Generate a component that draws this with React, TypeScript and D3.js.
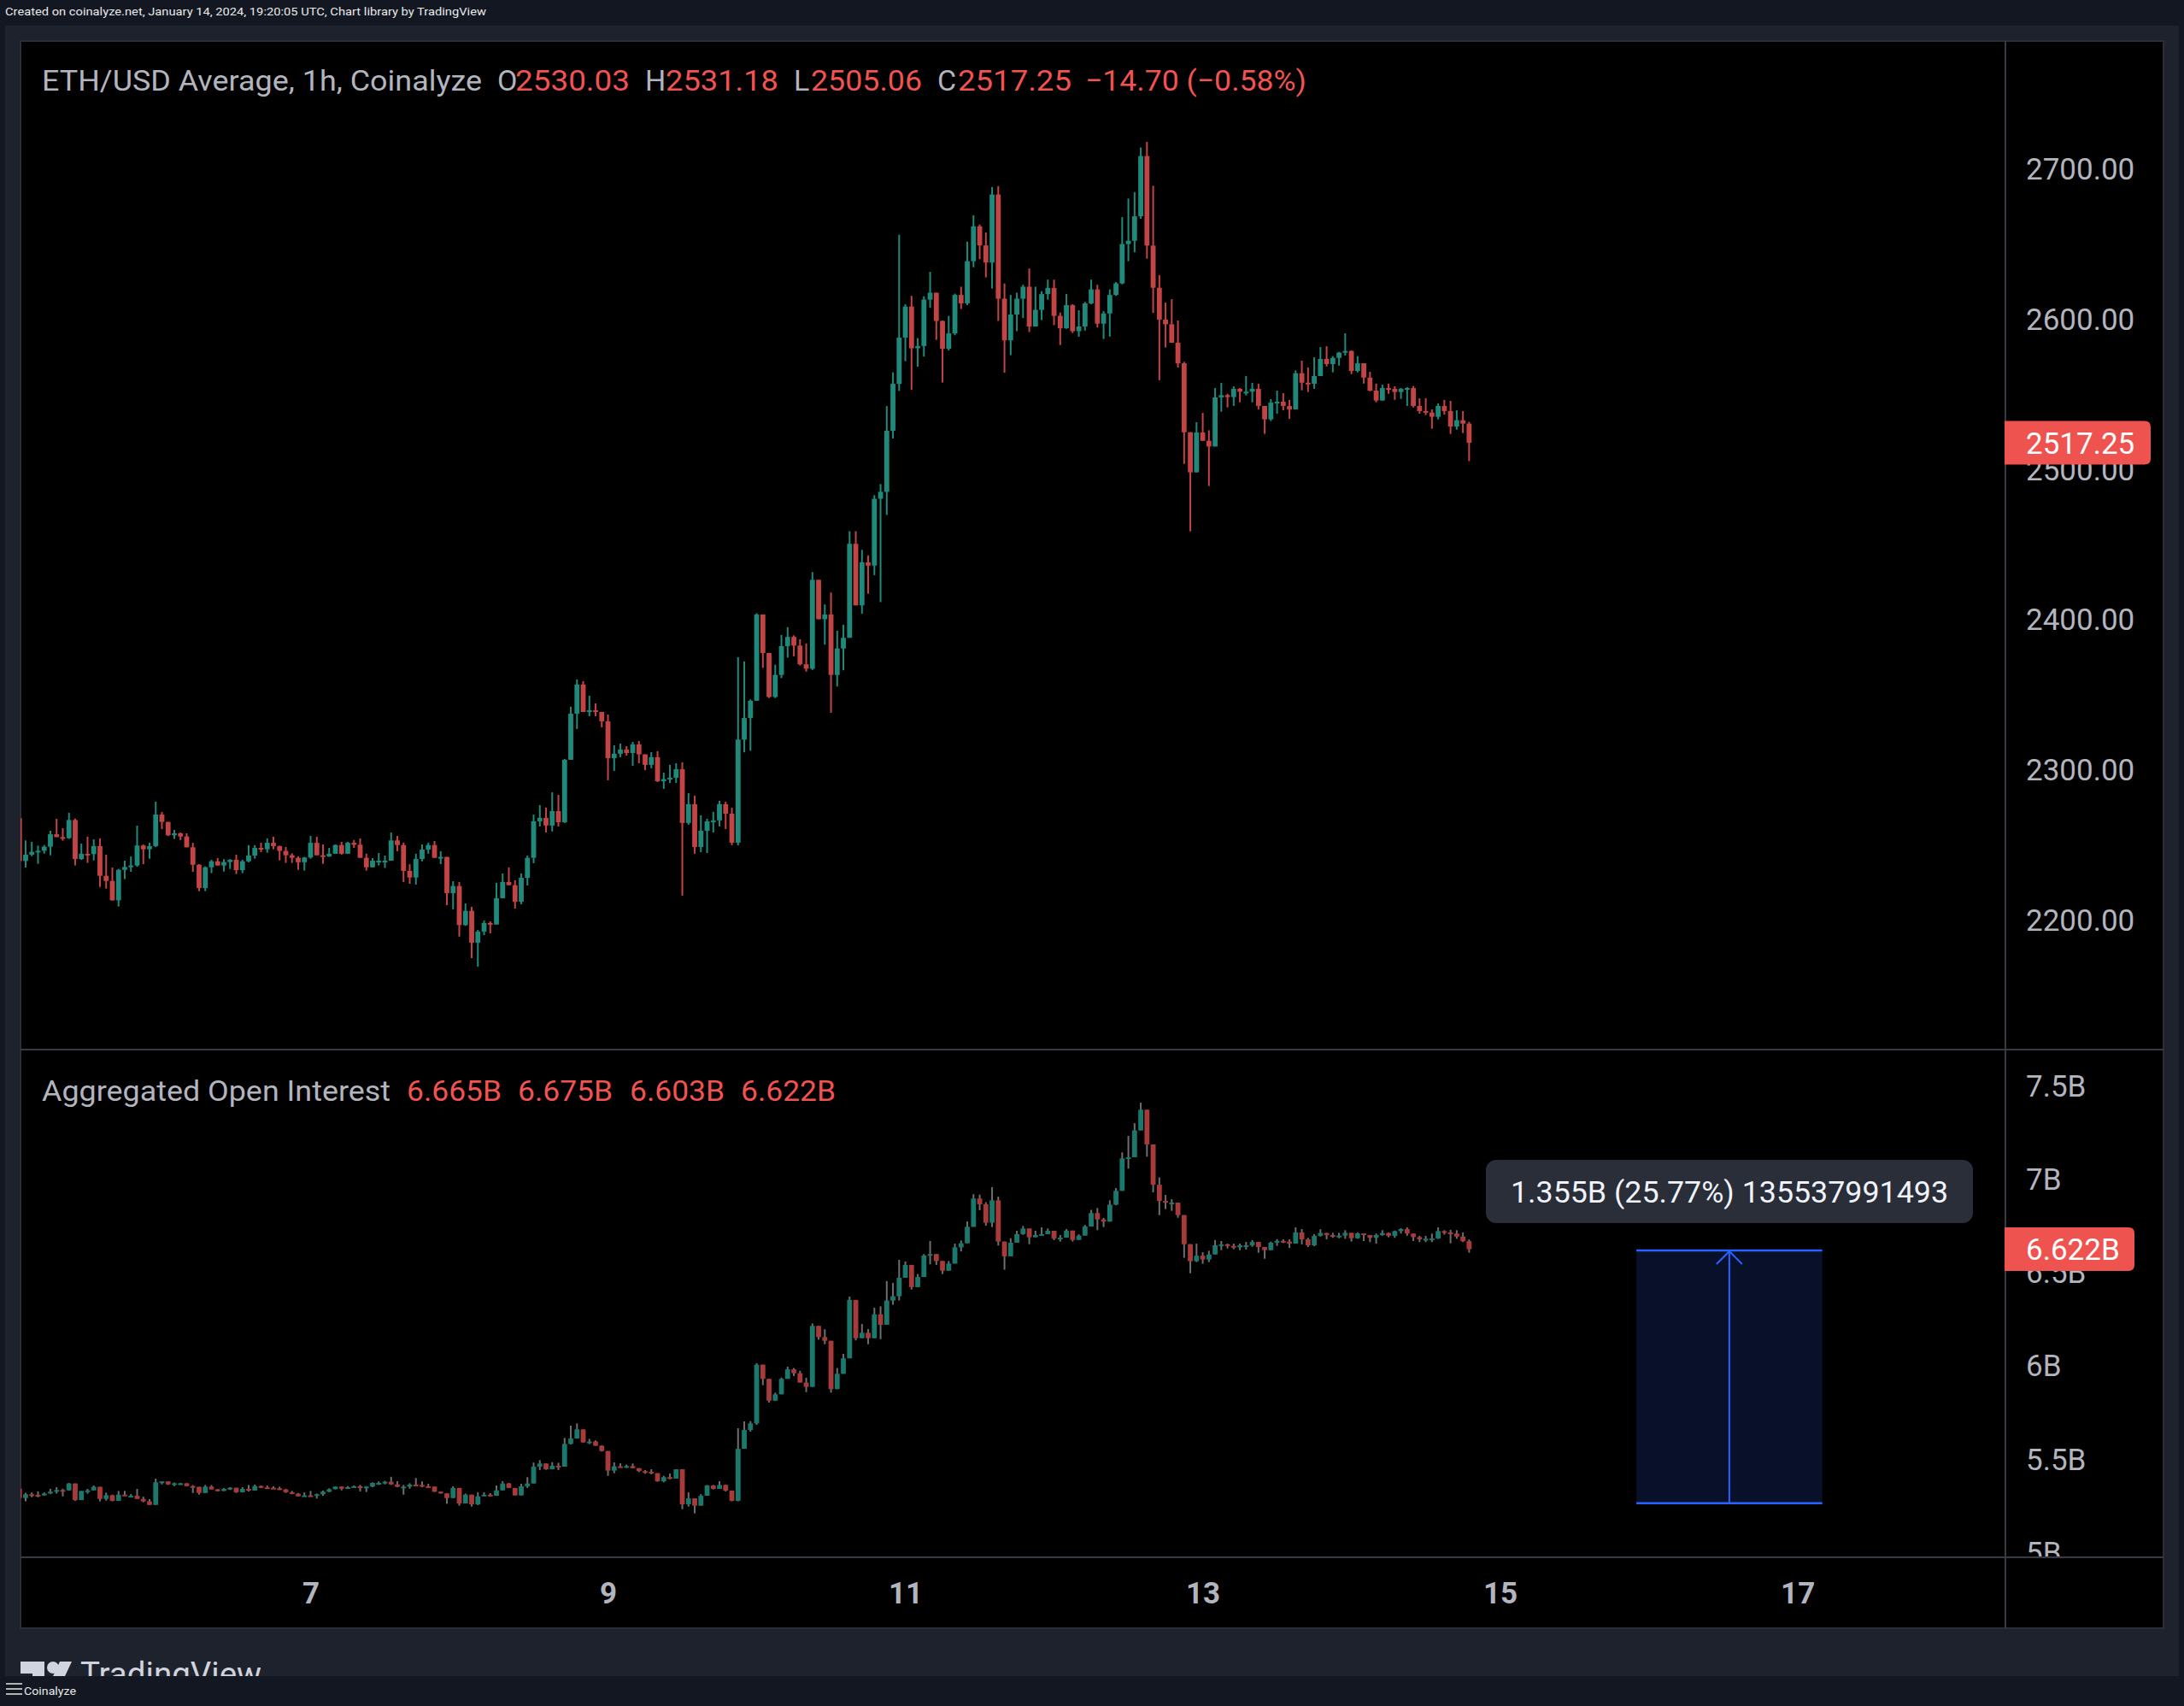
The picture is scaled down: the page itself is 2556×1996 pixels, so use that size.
import { useEffect, useRef } from "react";
import * as d3 from "d3";

const W = 2556;
const H = 1996;
const HOUR = 3600 * 1000;

// hourly candles, the first one opens on 2024-01-05 01:00 UTC
const firstCandleTime = Date.UTC(2024, 0, 5, 1);

// ETH/USD average, 1h
const priceFirstOpen = 2267.3;
const priceClose = [
  2238.8, 2243.0, 2244.9, 2245.6, 2248.3, 2256.6, 2254.7, 2254.0, 2266.1, 2240.1,
  2243.6, 2243.4, 2248.7, 2228.9, 2225.5, 2212.6, 2232.9, 2234.8, 2235.8, 2249.1,
  2246.6, 2248.7, 2269.7, 2264.8, 2255.9, 2257.2, 2255.1, 2247.9, 2236.3, 2220.8,
  2234.6, 2238.6, 2235.8, 2238.1, 2239.6, 2232.7, 2238.6, 2242.4, 2247.5, 2246.6,
  2250.9, 2248.7, 2245.5, 2242.6, 2240.9, 2237.9, 2241.1, 2250.9, 2242.6, 2241.8,
  2243.6, 2249.4, 2243.6, 2250.9, 2249.6, 2240.9, 2234.6, 2239.0, 2239.0, 2239.0,
  2252.5, 2249.4, 2232.2, 2227.8, 2240.1, 2246.4, 2249.4, 2240.9, 2241.5, 2217.4,
  2222.1, 2196.1, 2205.6, 2184.4, 2191.8, 2197.5, 2196.5, 2214.0, 2224.8, 2222.7,
  2211.7, 2227.6, 2240.9, 2265.2, 2267.5, 2262.4, 2272.0, 2264.6, 2306.2, 2336.9,
  2356.3, 2338.0, 2339.2, 2338.0, 2331.8, 2307.3, 2310.2, 2313.0, 2310.7, 2316.4,
  2309.8, 2302.8, 2307.9, 2291.9, 2293.3, 2294.2, 2299.9, 2264.1, 2276.6, 2248.1,
  2258.9, 2265.2, 2265.8, 2276.6, 2270.3, 2251.0, 2319.6, 2334.0, 2345.5, 2402.9,
  2377.3, 2348.0, 2362.7, 2381.9, 2388.0, 2382.2, 2369.8, 2366.8, 2426.0, 2399.8,
  2402.9, 2362.7, 2380.3, 2387.4, 2450.0, 2409.0, 2437.7, 2435.5, 2480.0, 2484.6,
  2525.3, 2556.5, 2587.3, 2608.0, 2580.2, 2581.7, 2612.6, 2617.2, 2598.4, 2579.9,
  2590.1, 2615.7, 2610.1, 2638.2, 2661.4, 2648.7, 2637.3, 2682.6, 2613.2, 2585.5,
  2602.7, 2613.2, 2621.2, 2594.7, 2605.8, 2616.3, 2620.3, 2601.8, 2593.5, 2608.9,
  2591.6, 2594.7, 2610.1, 2619.4, 2596.6, 2603.4, 2615.7, 2623.4, 2649.6, 2651.8,
  2668.1, 2708.2, 2648.6, 2620.5, 2599.3, 2596.2, 2583.9, 2570.2, 2524.3, 2497.6,
  2524.1, 2518.6, 2514.8, 2547.5, 2549.0, 2547.7, 2553.2, 2551.3, 2551.3, 2553.2,
  2541.8, 2532.9, 2544.0, 2544.6, 2541.8, 2539.5, 2563.6, 2557.3, 2556.6, 2561.7,
  2573.1, 2569.7, 2573.8, 2577.3, 2578.4, 2565.1, 2570.2, 2560.7, 2552.0, 2545.4,
  2553.7, 2553.2, 2551.1, 2553.2, 2553.7, 2541.8, 2538.4, 2537.4, 2534.6, 2541.8,
  2538.4, 2528.1, 2532.3, 2530.03, 2517.25,
];
const priceHigh = [
  2269.5, 2252.5, 2251.5, 2249.0, 2249.4, 2258.9, 2266.9, 2260.6, 2270.9, 2267.0,
  2250.4, 2254.9, 2253.2, 2253.8, 2243.0, 2234.4, 2233.5, 2239.0, 2241.8, 2262.3,
  2249.8, 2251.0, 2278.3, 2271.4, 2264.6, 2259.5, 2257.8, 2257.2, 2250.9, 2236.7,
  2235.2, 2239.6, 2240.7, 2240.0, 2240.0, 2243.0, 2239.6, 2249.3, 2249.3, 2250.9,
  2253.8, 2254.9, 2249.0, 2248.1, 2243.9, 2241.8, 2241.5, 2255.5, 2254.9, 2249.8,
  2247.5, 2249.8, 2251.5, 2251.5, 2252.7, 2253.8, 2243.6, 2240.7, 2244.1, 2242.4,
  2257.8, 2255.5, 2251.0, 2236.7, 2243.6, 2249.8, 2251.0, 2252.1, 2245.3, 2240.1,
  2225.3, 2224.8, 2210.5, 2208.3, 2192.9, 2199.2, 2198.6, 2224.2, 2230.5, 2234.5,
  2225.9, 2230.5, 2242.4, 2269.7, 2276.0, 2274.3, 2284.5, 2282.8, 2306.7, 2341.5,
  2359.7, 2358.5, 2348.9, 2343.7, 2338.0, 2336.3, 2315.8, 2317.0, 2315.3, 2318.1,
  2318.7, 2309.6, 2311.3, 2311.9, 2297.6, 2302.8, 2303.9, 2304.5, 2284.0, 2282.3,
  2269.2, 2266.9, 2271.5, 2278.9, 2278.3, 2274.3, 2374.5, 2371.7, 2346.4, 2403.8,
  2402.2, 2377.3, 2369.5, 2389.3, 2394.5, 2389.0, 2386.5, 2383.7, 2431.2, 2424.8,
  2409.6, 2417.6, 2392.1, 2396.1, 2458.4, 2458.4, 2446.0, 2442.3, 2482.4, 2489.8,
  2541.7, 2564.2, 2655.8, 2609.5, 2615.1, 2587.0, 2614.8, 2631.1, 2615.7, 2598.7,
  2601.8, 2616.6, 2621.2, 2651.2, 2668.8, 2662.6, 2657.3, 2687.6, 2688.2, 2623.4,
  2615.7, 2617.2, 2622.5, 2633.3, 2621.2, 2618.2, 2625.9, 2625.9, 2604.0, 2616.3,
  2609.5, 2605.5, 2611.1, 2625.9, 2622.5, 2604.9, 2619.4, 2624.3, 2667.5, 2679.9,
  2684.2, 2713.9, 2717.6, 2688.4, 2628.9, 2610.6, 2612.9, 2598.7, 2571.2, 2523.4,
  2531.0, 2537.2, 2525.6, 2553.7, 2557.2, 2549.9, 2554.9, 2553.7, 2561.7, 2557.2,
  2556.6, 2541.8, 2546.3, 2552.0, 2550.3, 2545.8, 2565.5, 2571.9, 2567.4, 2574.2,
  2581.0, 2581.6, 2575.0, 2577.8, 2590.2, 2578.8, 2575.0, 2570.2, 2564.5, 2556.7,
  2556.0, 2556.6, 2554.9, 2553.7, 2554.3, 2555.1, 2546.9, 2546.9, 2539.5, 2543.5,
  2545.8, 2545.2, 2538.9, 2538.4, 2531.18,
];
const priceLow = [
  2214.5, 2234.4, 2242.0, 2236.9, 2243.7, 2242.6, 2254.7, 2252.3, 2253.5, 2235.8,
  2239.5, 2237.5, 2239.2, 2221.5, 2220.4, 2212.4, 2208.5, 2226.7, 2231.6, 2235.0,
  2236.7, 2240.3, 2248.0, 2260.0, 2255.5, 2253.4, 2252.7, 2247.9, 2231.6, 2218.7,
  2218.7, 2230.7, 2235.8, 2231.8, 2233.5, 2230.1, 2230.7, 2237.9, 2240.3, 2244.7,
  2244.3, 2246.6, 2239.2, 2237.5, 2237.5, 2232.9, 2232.4, 2240.3, 2242.6, 2236.9,
  2241.5, 2243.6, 2243.0, 2243.6, 2247.5, 2240.9, 2232.4, 2234.6, 2235.8, 2234.1,
  2239.0, 2245.3, 2224.8, 2223.6, 2223.1, 2238.6, 2243.6, 2240.9, 2236.7, 2209.4,
  2206.6, 2188.4, 2195.6, 2174.1, 2168.4, 2189.5, 2190.6, 2196.5, 2214.5, 2222.7,
  2207.1, 2210.0, 2222.5, 2237.3, 2261.8, 2257.8, 2258.4, 2261.8, 2264.1, 2308.4,
  2326.7, 2338.0, 2335.2, 2335.2, 2327.8, 2292.5, 2298.8, 2307.9, 2309.0, 2302.2,
  2303.9, 2299.3, 2300.5, 2291.4, 2286.8, 2290.8, 2290.8, 2215.7, 2262.9, 2243.6,
  2244.7, 2244.1, 2257.8, 2261.8, 2260.1, 2249.3, 2249.2, 2311.2, 2312.2, 2345.8,
  2367.4, 2347.3, 2347.3, 2360.6, 2374.2, 2375.1, 2368.9, 2364.9, 2366.0, 2399.8,
  2382.8, 2337.5, 2355.0, 2365.8, 2388.4, 2409.0, 2403.5, 2416.7, 2429.1, 2411.2,
  2469.2, 2520.1, 2551.8, 2571.6, 2552.5, 2567.9, 2574.7, 2607.1, 2585.8, 2557.4,
  2578.7, 2588.9, 2606.4, 2608.9, 2634.2, 2639.5, 2627.4, 2620.0, 2598.4, 2563.9,
  2575.6, 2591.6, 2600.3, 2591.0, 2595.0, 2599.0, 2612.6, 2595.6, 2582.4, 2593.2,
  2590.4, 2587.9, 2592.0, 2609.5, 2594.1, 2586.4, 2588.0, 2615.1, 2622.8, 2638.2,
  2644.1, 2666.4, 2639.9, 2603.8, 2558.9, 2580.7, 2583.9, 2567.4, 2503.2, 2458.3,
  2497.6, 2518.6, 2488.5, 2514.8, 2538.0, 2540.8, 2541.8, 2544.2, 2548.8, 2544.2,
  2539.5, 2523.2, 2531.7, 2536.7, 2538.9, 2533.2, 2539.5, 2552.2, 2551.1, 2553.2,
  2561.7, 2568.1, 2564.2, 2568.7, 2575.4, 2563.0, 2564.2, 2556.7, 2551.6, 2544.2,
  2545.4, 2549.9, 2545.9, 2546.5, 2541.8, 2540.8, 2536.7, 2535.7, 2526.6, 2532.9,
  2536.1, 2523.2, 2526.0, 2523.7, 2505.06,
];

// Aggregated open interest, billions
const oiFirstOpen = 5.338;
const oiClose = [
  5.288, 5.308, 5.305, 5.302, 5.312, 5.322, 5.331, 5.329, 5.366, 5.277,
  5.326, 5.329, 5.348, 5.283, 5.303, 5.273, 5.306, 5.300, 5.300, 5.283,
  5.270, 5.251, 5.372, 5.377, 5.361, 5.367, 5.367, 5.352, 5.348, 5.315,
  5.349, 5.334, 5.326, 5.337, 5.343, 5.319, 5.337, 5.328, 5.352, 5.345,
  5.343, 5.340, 5.334, 5.319, 5.311, 5.297, 5.302, 5.300, 5.308, 5.322,
  5.335, 5.349, 5.338, 5.346, 5.351, 5.341, 5.349, 5.369, 5.369, 5.375,
  5.361, 5.348, 5.349, 5.360, 5.358, 5.351, 5.349, 5.322, 5.313, 5.288,
  5.342, 5.259, 5.306, 5.254, 5.297, 5.306, 5.300, 5.329, 5.366, 5.342,
  5.302, 5.351, 5.366, 5.456, 5.473, 5.442, 5.461, 5.456, 5.578, 5.607,
  5.656, 5.586, 5.591, 5.568, 5.540, 5.435, 5.458, 5.456, 5.459, 5.448,
  5.432, 5.429, 5.421, 5.378, 5.400, 5.392, 5.442, 5.254, 5.286, 5.247,
  5.300, 5.355, 5.337, 5.358, 5.328, 5.273, 5.552, 5.653, 5.688, 6.003,
  5.927, 5.810, 5.844, 5.927, 5.978, 5.957, 5.907, 5.884, 6.211, 6.151,
  6.131, 5.872, 5.954, 6.037, 6.350, 6.145, 6.174, 6.145, 6.273, 6.217,
  6.347, 6.370, 6.469, 6.538, 6.419, 6.473, 6.588, 6.596, 6.559, 6.507,
  6.545, 6.632, 6.654, 6.742, 6.894, 6.863, 6.764, 6.884, 6.663, 6.584,
  6.657, 6.703, 6.733, 6.686, 6.698, 6.703, 6.721, 6.680, 6.684, 6.722,
  6.672, 6.695, 6.744, 6.816, 6.782, 6.770, 6.861, 6.935, 7.109, 7.115,
  7.259, 7.370, 7.184, 6.968, 6.881, 6.872, 6.872, 6.805, 6.649, 6.558,
  6.587, 6.567, 6.594, 6.643, 6.648, 6.640, 6.632, 6.643, 6.643, 6.661,
  6.634, 6.617, 6.657, 6.667, 6.663, 6.652, 6.712, 6.675, 6.643, 6.694,
  6.709, 6.698, 6.695, 6.695, 6.710, 6.681, 6.707, 6.698, 6.683, 6.698,
  6.709, 6.694, 6.719, 6.730, 6.706, 6.687, 6.675, 6.678, 6.680, 6.719,
  6.712, 6.706, 6.690, 6.665, 6.622,
];
const oiHigh = [
  5.364, 5.316, 5.318, 5.323, 5.318, 5.337, 5.346, 5.338, 5.369, 5.341,
  5.326, 5.337, 5.355, 5.337, 5.317, 5.306, 5.326, 5.326, 5.309, 5.337,
  5.295, 5.282, 5.392, 5.377, 5.374, 5.371, 5.369, 5.364, 5.357, 5.346,
  5.358, 5.357, 5.337, 5.341, 5.346, 5.337, 5.346, 5.358, 5.360, 5.355,
  5.355, 5.351, 5.349, 5.337, 5.326, 5.315, 5.318, 5.326, 5.312, 5.328,
  5.340, 5.351, 5.347, 5.352, 5.355, 5.358, 5.352, 5.372, 5.377, 5.380,
  5.402, 5.378, 5.358, 5.367, 5.395, 5.377, 5.364, 5.343, 5.322, 5.302,
  5.351, 5.323, 5.312, 5.297, 5.319, 5.319, 5.314, 5.355, 5.378, 5.369,
  5.338, 5.364, 5.400, 5.478, 5.491, 5.474, 5.480, 5.477, 5.610, 5.676,
  5.688, 5.638, 5.605, 5.597, 5.571, 5.511, 5.479, 5.474, 5.467, 5.473,
  5.447, 5.438, 5.442, 5.408, 5.407, 5.419, 5.442, 5.424, 5.318, 5.268,
  5.309, 5.358, 5.358, 5.378, 5.360, 5.309, 5.662, 5.699, 5.700, 6.011,
  6.000, 5.885, 5.853, 5.934, 5.992, 5.985, 5.970, 5.933, 6.224, 6.193,
  6.193, 6.098, 5.985, 6.061, 6.368, 6.289, 6.221, 6.194, 6.308, 6.316,
  6.451, 6.441, 6.565, 6.556, 6.492, 6.489, 6.596, 6.666, 6.591, 6.545,
  6.559, 6.652, 6.669, 6.771, 6.917, 6.915, 6.874, 6.955, 6.904, 6.652,
  6.681, 6.721, 6.747, 6.715, 6.721, 6.739, 6.733, 6.706, 6.698, 6.730,
  6.693, 6.702, 6.752, 6.833, 6.843, 6.790, 6.884, 6.950, 7.141, 7.230,
  7.298, 7.408, 7.353, 7.179, 7.007, 6.913, 6.890, 6.861, 6.758, 6.642,
  6.652, 6.606, 6.614, 6.671, 6.666, 6.652, 6.652, 6.652, 6.661, 6.671,
  6.657, 6.634, 6.663, 6.676, 6.675, 6.675, 6.739, 6.730, 6.683, 6.703,
  6.729, 6.710, 6.710, 6.710, 6.724, 6.703, 6.712, 6.707, 6.694, 6.706,
  6.724, 6.712, 6.722, 6.735, 6.739, 6.698, 6.694, 6.694, 6.706, 6.739,
  6.724, 6.726, 6.724, 6.712, 6.675,
];
const oiLow = [
  5.262, 5.270, 5.292, 5.292, 5.300, 5.310, 5.312, 5.297, 5.327, 5.273,
  5.277, 5.311, 5.331, 5.270, 5.274, 5.270, 5.290, 5.300, 5.292, 5.283,
  5.265, 5.251, 5.270, 5.361, 5.358, 5.352, 5.358, 5.350, 5.315, 5.306,
  5.326, 5.334, 5.323, 5.325, 5.331, 5.315, 5.323, 5.323, 5.332, 5.341,
  5.341, 5.337, 5.331, 5.315, 5.308, 5.297, 5.299, 5.300, 5.285, 5.300,
  5.319, 5.335, 5.329, 5.343, 5.343, 5.323, 5.320, 5.346, 5.358, 5.361,
  5.358, 5.346, 5.306, 5.338, 5.354, 5.346, 5.346, 5.320, 5.311, 5.257,
  5.290, 5.247, 5.273, 5.242, 5.250, 5.297, 5.296, 5.300, 5.334, 5.342,
  5.302, 5.323, 5.342, 5.369, 5.438, 5.439, 5.444, 5.438, 5.517, 5.575,
  5.621, 5.586, 5.577, 5.568, 5.537, 5.407, 5.421, 5.456, 5.450, 5.448,
  5.427, 5.418, 5.415, 5.375, 5.372, 5.389, 5.404, 5.228, 5.242, 5.206,
  5.247, 5.306, 5.334, 5.343, 5.323, 5.270, 5.270, 5.552, 5.644, 5.680,
  5.893, 5.800, 5.810, 5.865, 5.927, 5.942, 5.907, 5.856, 5.884, 6.137,
  6.113, 5.853, 5.896, 5.957, 6.122, 6.133, 6.153, 6.113, 6.202, 6.140,
  6.260, 6.324, 6.347, 6.480, 6.406, 6.434, 6.507, 6.541, 6.538, 6.489,
  6.507, 6.568, 6.610, 6.690, 6.765, 6.831, 6.748, 6.741, 6.642, 6.512,
  6.599, 6.664, 6.699, 6.649, 6.690, 6.694, 6.706, 6.671, 6.663, 6.703,
  6.663, 6.675, 6.710, 6.749, 6.724, 6.741, 6.779, 6.858, 6.950, 7.054,
  7.130, 7.283, 7.118, 6.927, 6.805, 6.837, 6.828, 6.791, 6.576, 6.493,
  6.553, 6.544, 6.553, 6.603, 6.617, 6.626, 6.622, 6.617, 6.620, 6.635,
  6.603, 6.571, 6.622, 6.640, 6.655, 6.629, 6.675, 6.648, 6.634, 6.638,
  6.690, 6.675, 6.683, 6.681, 6.678, 6.663, 6.678, 6.666, 6.660, 6.652,
  6.694, 6.686, 6.683, 6.706, 6.694, 6.666, 6.660, 6.660, 6.660, 6.677,
  6.700, 6.654, 6.678, 6.660, 6.603,
];

const priceTicks = [2200, 2300, 2400, 2500, 2600, 2700];
const oiTicks = [5, 5.5, 6, 6.5, 7, 7.5];
const dayTicks = [7, 9, 11, 13, 15, 17];

// price range drawing on the OI pane
const rangeFrom = Date.UTC(2024, 0, 15, 22);
const rangeTo = Date.UTC(2024, 0, 17, 4);
const rangeLow = 5.2598;
const rangeHigh = 6.6154;
const rangeText = "1.355B (25.77%) 135537991493";

const FONT = "Roboto, 'Noto Sans', sans-serif";
const GRAY = "#b2b5be";
const RED_TXT = "#f05350";

function drawCandles(g: any, close: number[], high: number[], low: number[], firstOpen: number,
  x: any, y: any, up: string, down: string, wick?: string) {
  const bars = close.map((c, i) => {
    const o = i === 0 ? firstOpen : close[i - 1];
    return {
      t: new Date(firstCandleTime + i * HOUR),
      o,
      c,
      h: Math.max(high[i], o, c),
      l: Math.min(low[i], o, c),
    };
  });
  g.selectAll("rect.wick")
    .data(bars)
    .join("rect")
    .attr("class", "wick")
    .attr("x", (d: any) => x(d.t) - 1)
    .attr("width", 2)
    .attr("y", (d: any) => y(d.h))
    .attr("height", (d: any) => Math.max(1, y(d.l) - y(d.h)))
    .attr("fill", (d: any) => wick ?? (d.c >= d.o ? up : down));
  g.selectAll("rect.body")
    .data(bars)
    .join("rect")
    .attr("class", "body")
    .attr("x", (d: any) => x(d.t) - 2.9)
    .attr("width", 5.8)
    .attr("y", (d: any) => y(Math.max(d.o, d.c)))
    .attr("height", (d: any) => Math.max(2, Math.abs(y(d.o) - y(d.c))))
    .attr("fill", (d: any) => (d.c >= d.o ? up : down));
}

function lastLabel(svg: any, yc: number, w: number, text: string) {
  const x0 = 2346;
  const h = 51;
  const r = 7;
  const top = yc - h / 2;
  svg.append("path")
    .attr("d", `M${x0},${top} H${x0 + w - r} Q${x0 + w},${top} ${x0 + w},${top + r} V${top + h - r} Q${x0 + w},${top + h} ${x0 + w - r},${top + h} H${x0} Z`)
    .attr("fill", "#ef5350");
  svg.append("text")
    .attr("x", 2371)
    .attr("y", yc)
    .attr("dy", "0.36em")
    .attr("font-family", FONT)
    .attr("font-size", 35)
    .attr("fill", "#ffffff")
    .text(text);
}

function chartRender(svg: any) {
  const x = d3.scaleUtc()
    .domain([new Date(Date.UTC(2024, 0, 7)), new Date(Date.UTC(2024, 0, 15))])
    .range([363.5, 1755.6]);
  const yPrice = d3.scaleLinear().domain([2200, 2700]).range([1075.5, 197]);
  const yOi = d3.scaleLinear().domain([5, 7.5]).range([1815.5, 1270]);

  // page and frame
  svg.append("rect").attr("width", W).attr("height", H).attr("fill", "#131722");
  svg.append("rect").attr("x", 6).attr("y", 30).attr("width", 2544).attr("height", 1931).attr("fill", "#1e222d");
  svg.append("rect").attr("x", 24).attr("y", 48).attr("width", 2508).attr("height", 1857)
    .attr("fill", "#000000").attr("stroke", "#2a2e39").attr("stroke-width", 2);

  svg.append("text")
    .attr("x", 6).attr("y", 18)
    .attr("font-family", FONT).attr("font-size", 13).attr("fill", "#e8e8e8")
    .attr("textLength", 563).attr("lengthAdjust", "spacingAndGlyphs")
    .text("Created on coinalyze.net, January 14, 2024, 19:20:05 UTC, Chart library by TradingView");

  const defs = svg.append("defs");
  defs.append("clipPath").attr("id", "clipPrice")
    .append("rect").attr("x", 24).attr("y", 48).attr("width", 2322).attr("height", 1179);
  defs.append("clipPath").attr("id", "clipOi")
    .append("rect").attr("x", 24).attr("y", 1229).attr("width", 2322).attr("height", 592);
  defs.append("clipPath").attr("id", "clipOiAxis")
    .append("rect").attr("x", 2348).attr("y", 1229).attr("width", 184).attr("height", 592);
  defs.append("clipPath").attr("id", "clipLogo")
    .append("rect").attr("x", 0).attr("y", 1906).attr("width", 600).attr("height", 55);

  // separators
  const sep = "#363a45";
  svg.append("line").attr("x1", 2347).attr("x2", 2347).attr("y1", 48).attr("y2", 1905).attr("stroke", sep).attr("stroke-width", 2);
  svg.append("line").attr("x1", 24).attr("x2", 2532).attr("y1", 1228).attr("y2", 1228).attr("stroke", sep).attr("stroke-width", 2);
  svg.append("line").attr("x1", 24).attr("x2", 2532).attr("y1", 1822).attr("y2", 1822).attr("stroke", sep).attr("stroke-width", 2);

  // candles
  const gp = svg.append("g").attr("clip-path", "url(#clipPrice)");
  drawCandles(gp, priceClose, priceHigh, priceLow, priceFirstOpen, x, yPrice, "#1f8a7b", "#c24444");
  const go = svg.append("g").attr("clip-path", "url(#clipOi)");
  drawCandles(go, oiClose, oiHigh, oiLow, oiFirstOpen, x, yOi, "#1a786c", "#a83a3a", "#6e6e6e");

  // range tool
  const rx0 = x(new Date(rangeFrom));
  const rx1 = x(new Date(rangeTo));
  const ry0 = yOi(rangeHigh);
  const ry1 = yOi(rangeLow);
  const rxc = (rx0 + rx1) / 2;
  go.append("rect").attr("x", rx0).attr("y", ry0).attr("width", rx1 - rx0).attr("height", ry1 - ry0).attr("fill", "#08102a");
  [ry0, ry1].forEach((yy) =>
    go.append("line").attr("x1", rx0).attr("x2", rx1).attr("y1", yy).attr("y2", yy)
      .attr("stroke", "#2962ff").attr("stroke-width", 2.5));
  go.append("line").attr("x1", rxc).attr("x2", rxc).attr("y1", ry1).attr("y2", ry0 + 1)
    .attr("stroke", "#2962ff").attr("stroke-width", 2);
  go.append("polyline")
    .attr("points", `${rxc - 15},${ry0 + 16} ${rxc},${ry0 + 1} ${rxc + 15},${ry0 + 16}`)
    .attr("fill", "none").attr("stroke", "#2962ff").attr("stroke-width", 2);
  go.append("rect").attr("x", 1739).attr("y", 1357).attr("width", 570).attr("height", 74).attr("rx", 12)
    .attr("fill", "#2a2e39");
  go.append("text").attr("x", 1768).attr("y", 1394).attr("dy", "0.36em")
    .attr("font-family", FONT).attr("font-size", 35).attr("fill", "#f0f3fa")
    .attr("textLength", 512).attr("lengthAdjust", "spacingAndGlyphs").text(rangeText);

  // price axis
  const pa = svg.append("g").attr("transform", "translate(2371,0)")
    .call(d3.axisRight(yPrice).tickValues(priceTicks).tickSize(0).tickPadding(0).tickFormat(d3.format(".2f")));
  pa.select(".domain").remove();
  pa.attr("font-family", FONT).attr("font-size", 35);
  pa.selectAll("text").attr("fill", GRAY).attr("dy", "0.36em");

  // OI axis
  const oa = svg.append("g").attr("clip-path", "url(#clipOiAxis)").append("g").attr("transform", "translate(2371,0)")
    .call(d3.axisRight(yOi).tickValues(oiTicks).tickSize(0).tickPadding(0).tickFormat((d: any) => `${d}B`));
  oa.select(".domain").remove();
  oa.attr("font-family", FONT).attr("font-size", 35);
  oa.selectAll("text").attr("fill", GRAY).attr("dy", "0.36em");

  // time axis
  const ta = svg.append("g").attr("transform", "translate(0,1863)")
    .call(d3.axisBottom(x).tickValues(dayTicks.map((d) => new Date(Date.UTC(2024, 0, d))))
      .tickSize(0).tickPadding(0).tickFormat((d: any) => String(d.getUTCDate())));
  ta.select(".domain").remove();
  ta.attr("font-family", FONT).attr("font-size", 35).attr("font-weight", "bold");
  ta.selectAll("text").attr("fill", GRAY).attr("y", 0).attr("dy", "0.36em");

  // last value labels
  const n = priceClose.length - 1;
  lastLabel(svg, yPrice(priceClose[n]), 171, priceClose[n].toFixed(2));
  lastLabel(svg, yOi(oiClose[n]), 152, `${oiClose[n].toFixed(3)}B`);

  // legends
  const title = [
    { t: "ETH/USD Average, 1h, Coinalyze", x: 49, len: 515, c: GRAY },
    { t: "O", x: 582, len: 0, c: GRAY },
    { t: priceClose[n - 1].toFixed(2), x: 603, len: 134, c: RED_TXT },
    { t: "H", x: 755, len: 0, c: GRAY },
    { t: priceHigh[n].toFixed(2), x: 779, len: 132, c: RED_TXT },
    { t: "L", x: 929, len: 0, c: GRAY },
    { t: priceLow[n].toFixed(2), x: 949, len: 130, c: RED_TXT },
    { t: "C", x: 1097, len: 0, c: GRAY },
    { t: priceClose[n].toFixed(2), x: 1121, len: 133, c: RED_TXT },
    { t: "\u221214.70 (\u22120.58%)", x: 1270, len: 259, c: RED_TXT },
  ];
  const oiTitle = [
    { t: "Aggregated Open Interest", x: 49, len: 408, c: GRAY },
    { t: `${oiClose[n - 1].toFixed(3)}B`, x: 476, len: 111, c: RED_TXT },
    { t: `${oiHigh[n].toFixed(3)}B`, x: 606, len: 111, c: RED_TXT },
    { t: `${oiLow[n].toFixed(3)}B`, x: 737, len: 111, c: RED_TXT },
    { t: `${oiClose[n].toFixed(3)}B`, x: 867, len: 111, c: RED_TXT },
  ];
  const legend = (items: any[], yb: number) =>
    items.forEach((s) => {
      const el = svg.append("text").attr("x", s.x).attr("y", yb)
        .attr("font-family", FONT).attr("font-size", 34).attr("fill", s.c).text(s.t);
      if (s.len) el.attr("textLength", s.len).attr("lengthAdjust", "spacingAndGlyphs");
    });
  legend(title, 106);
  legend(oiTitle, 1288);

  // TradingView watermark, cut by the bottom bar
  const logo = svg.append("g").attr("clip-path", "url(#clipLogo)").attr("fill", "#d1d4dc");
  logo.append("path").attr("d", "M24,1944 H52 V1974 H38 V1958 H24 Z");
  logo.append("circle").attr("cx", 62).attr("cy", 1951).attr("r", 7);
  logo.append("path").attr("d", "M70,1944 H84 L70,1974 H56 Z");
  logo.append("text").attr("x", 94).attr("y", 1972).attr("font-family", FONT).attr("font-size", 38)
    .attr("textLength", 212).attr("lengthAdjust", "spacingAndGlyphs").text("TradingView");

  // bottom bar
  svg.append("rect").attr("x", 0).attr("y", 1961).attr("width", W).attr("height", H - 1961).attr("fill", "#131722");
  [1970, 1976, 1982].forEach((yy) =>
    svg.append("line").attr("x1", 7).attr("x2", 26).attr("y1", yy).attr("y2", yy).attr("stroke", "#e8e8e8").attr("stroke-width", 1.5));
  svg.append("text").attr("x", 28).attr("y", 1983).attr("font-family", FONT).attr("font-size", 13)
    .attr("fill", "#e8e8e8").attr("textLength", 61).attr("lengthAdjust", "spacingAndGlyphs").text("Coinalyze");
}

export default function App() {
  const svgRef = useRef<SVGSVGElement | null>(null);

  useEffect(() => {
    document.body.style.margin = "0";
    document.body.style.background = "#131722";
    if (svgRef.current) {
      const svg = d3.select(svgRef.current);
      svg.selectAll("*").remove();
      chartRender(svg);
    }
  }, []);

  return <svg ref={svgRef} width={W} height={H} style={{ display: "block" }} />;
}
